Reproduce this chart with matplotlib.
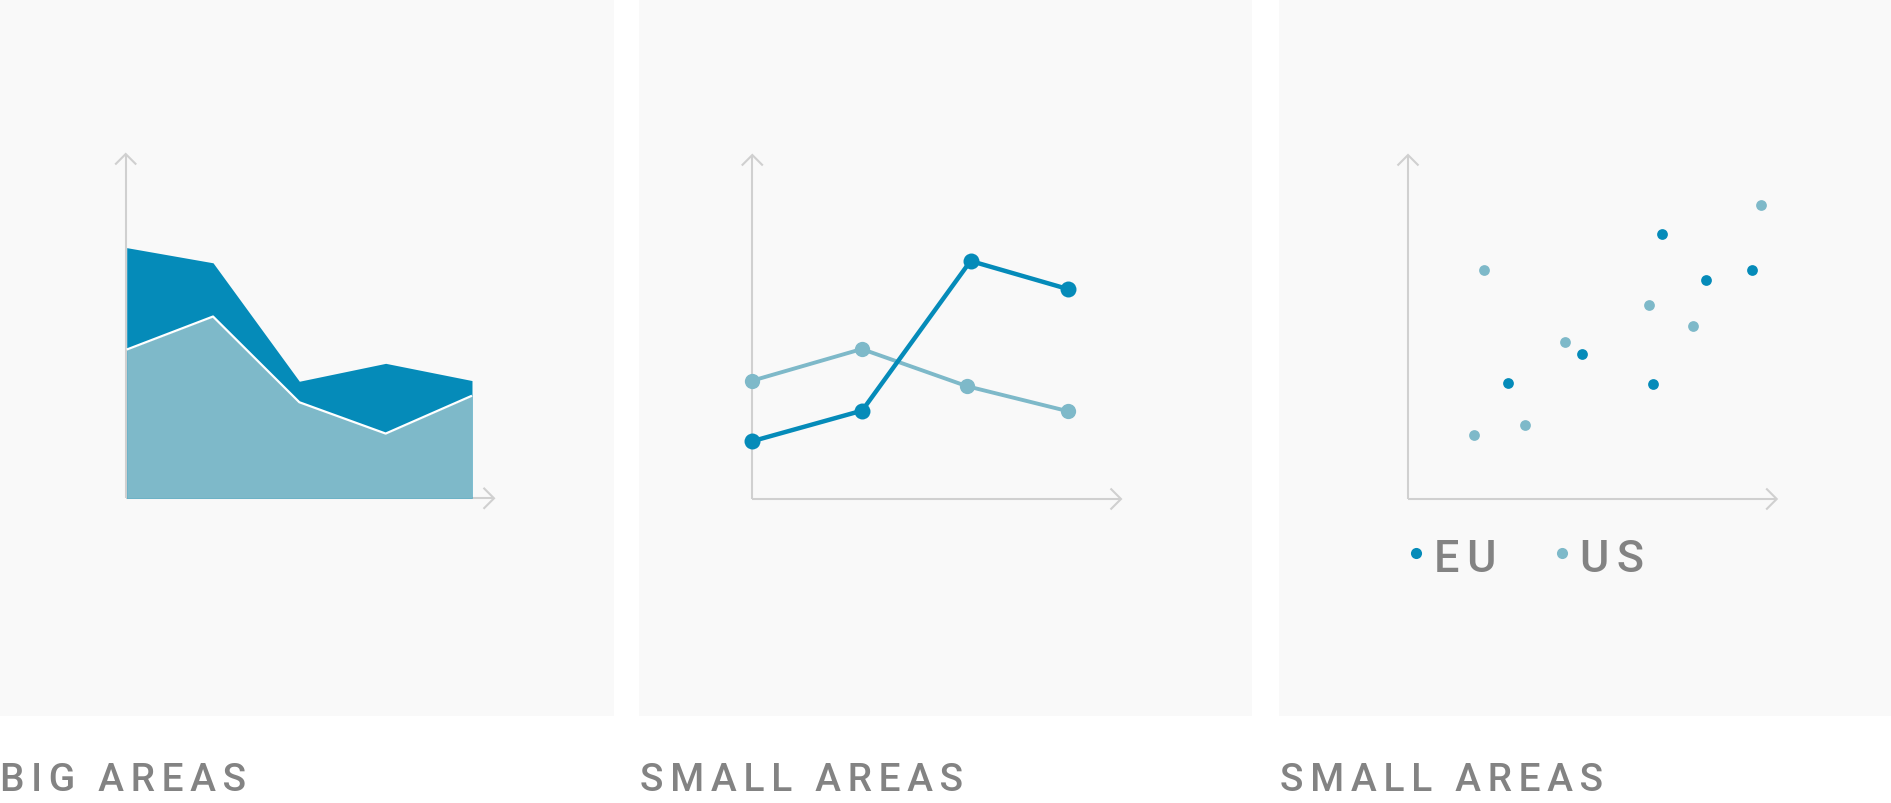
import matplotlib
matplotlib.use("Agg")
import matplotlib.pyplot as plt
from matplotlib.patches import Rectangle
from matplotlib.lines import Line2D

W, H = 1891, 804
DARK = "#058bb9"
LIGHT = "#7eb9c9"
AXIS = "#d0d0d0"
PANEL = "#f9f9f9"
TEXT = "#838383"

# ---------------- data ----------------
area_x = [0, 1, 2, 3, 4]
area_eu = [7.28, 6.84, 3.40, 3.92, 3.42]
area_us = [4.32, 5.28, 2.79, 1.88, 2.98]

line_eu_x = [0.0, 2.98, 5.92, 8.57]
line_eu_y = [1.68, 2.57, 6.92, 6.10]
line_us_x = [0.0, 2.97, 5.82, 8.57]
line_us_y = [3.44, 4.36, 3.28, 2.55]

scatter_eu_x = [6.90, 8.07, 9.33, 4.73, 2.70, 6.65]
scatter_eu_y = [7.69, 6.38, 6.66, 4.21, 3.36, 3.35]
scatter_us_x = [2.06, 9.57, 6.54, 7.74, 4.25, 3.18, 1.78]
scatter_us_y = [6.67, 8.54, 5.63, 5.02, 4.57, 2.15, 1.86]

legend_labels = ["EU", "US"]
captions = ["BIG AREAS", "SMALL AREAS", "SMALL AREAS"]

# ---------------- layout helpers ----------------
fig = plt.figure(figsize=(W / 100, H / 100), dpi=100)
fig.patch.set_facecolor("white")


def fx(px):
    return px / W


def fy(py):
    return 1 - py / H


def spaced(s, sep):
    return sep.join(list(s))


panels = [(0, 614), (639, 1252), (1279, 1891)]
PANEL_BOTTOM = 717
for l, r in panels:
    fig.add_artist(Rectangle((fx(l), fy(PANEL_BOTTOM)), (r - l) / W, PANEL_BOTTOM / H,
                             transform=fig.transFigure, facecolor=PANEL,
                             edgecolor="none", zorder=-1))

# axis boxes: left, top (arrow tip), right (arrow tip), bottom (baseline) in px
boxes = [(125.7, 155, 494, 499.3), (752.3, 156, 1121, 500), (1408, 156, 1776.7, 500)]


def make_ax(box):
    l, t, r, b = box
    ax = fig.add_axes([fx(l), fy(b), (r - l) / W, (b - t) / H])
    ax.set_axis_off()
    ax.patch.set_alpha(0)
    w, h = r - l, b - t
    kw = dict(transform=ax.transAxes, color=AXIS, lw=1.5, clip_on=False,
              zorder=1, solid_capstyle="butt", solid_joinstyle="miter")
    ax.plot([0, 0], [0, 1], **kw)
    ax.plot([0, 1], [0, 0], **kw)
    a = 10.5
    ax.plot([-a / w, 0, a / w], [1 - a / h, 1, 1 - a / h], **kw)
    ax.plot([1 - a / w, 1, 1 - a / w], [a / h, 0, -a / h], **kw)
    ax.set_ylim(0, 10)
    return ax


# ---------------- chart 1: areas ----------------
ax1 = make_ax(boxes[0])
ax1.set_xlim(-0.0116, 4.255)
ax1.fill_between(area_x, 0, area_eu, color=DARK, lw=0, zorder=2)
ax1.fill_between(area_x, 0, area_us, color=LIGHT, lw=0, zorder=3)
ax1.plot(area_x, area_us, color="white", lw=1.6, zorder=4, solid_capstyle="butt")

# ---------------- chart 2: lines ----------------
ax2 = make_ax(boxes[1])
ax2.set_xlim(0, 10)
ax2.plot(line_us_x, line_us_y, color=LIGHT, lw=2.8, marker="o", ms=11,
         mec="none", clip_on=False, zorder=3)
ax2.plot(line_eu_x, line_eu_y, color=DARK, lw=3.2, marker="o", ms=11.5,
         mec="none", clip_on=False, zorder=4)

# ---------------- chart 3: scatter ----------------
ax3 = make_ax(boxes[2])
ax3.set_xlim(0, 10)
ax3.scatter(scatter_us_x, scatter_us_y, s=60, color=LIGHT, lw=0, zorder=3)
ax3.scatter(scatter_eu_x, scatter_eu_y, s=60, color=DARK, lw=0, zorder=4)

# legend
leg_dots = [(1416, 554), (1562.3, 554)]
leg_text_x = [1434.5, 1580.5]
for (dx, dy), tx, lab, col in zip(leg_dots, leg_text_x, legend_labels, [DARK, LIGHT]):
    fig.add_artist(Line2D([fx(dx)], [fy(dy)], marker="o", ms=8, color=col,
                          mec="none", transform=fig.transFigure))
    fig.text(fx(tx), fy(572.3), spaced(lab, "\u2006"), color=TEXT,
             fontsize=32.4, family=["Roboto", "DejaVu Sans"], weight="medium",
             va="baseline", ha="left")

# captions
cap_x = [0, 639.5, 1279.5]
for cx, cap in zip(cap_x, captions):
    fig.text(fx(cx), fy(791), spaced(cap, "\u2006"), color=TEXT, fontsize=28,
             family=["Roboto", "DejaVu Sans"], weight="medium",
             va="baseline", ha="left")

fig.savefig("out.png", dpi=100, facecolor="white")
